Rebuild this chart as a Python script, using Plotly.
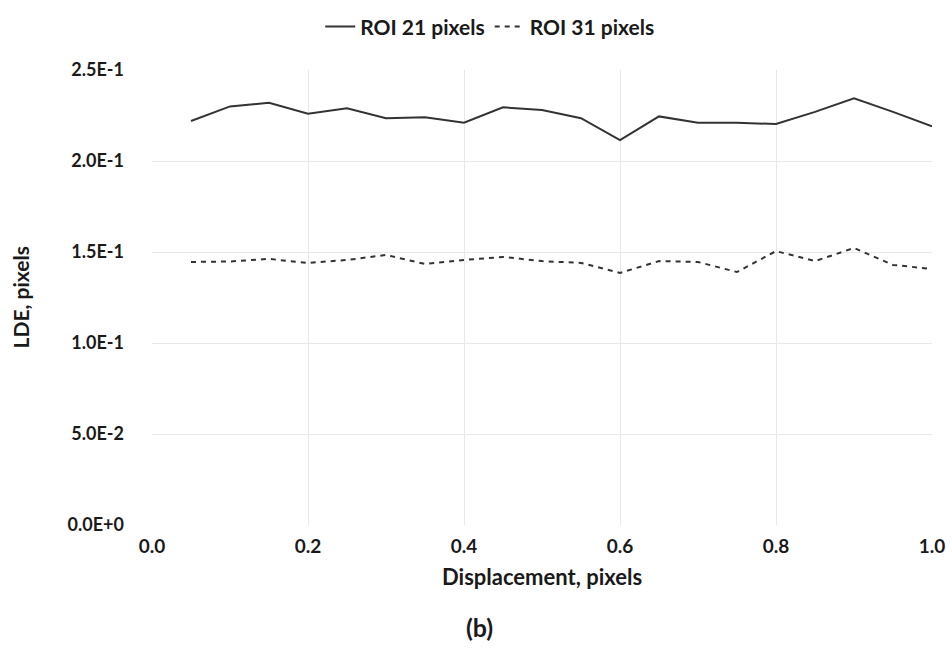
import plotly.graph_objects as go

displacement = [0.05, 0.10, 0.15, 0.20, 0.25, 0.30, 0.35, 0.40, 0.45, 0.50,
                0.55, 0.60, 0.65, 0.70, 0.75, 0.80, 0.85, 0.90, 0.95, 1.00]
roi21 = [0.222, 0.230, 0.232, 0.226, 0.229, 0.2235, 0.224, 0.221, 0.2295, 0.228,
         0.2235, 0.2115, 0.2245, 0.221, 0.221, 0.2203, 0.227, 0.2345, 0.227, 0.219]
roi31 = [0.1445, 0.1448, 0.1462, 0.144, 0.1456, 0.1484, 0.1434, 0.1456, 0.1473, 0.145,
         0.144, 0.1385, 0.145, 0.1445, 0.139, 0.1505, 0.145, 0.1522, 0.1429, 0.1407]
y_tickvals = [0.0, 0.05, 0.10, 0.15, 0.20, 0.25]
y_ticktext = ["0.0E+0", "5.0E-2", "1.0E-1", "1.5E-1", "2.0E-1", "2.5E-1"]
x_tickvals = [0.0, 0.2, 0.4, 0.6, 0.8, 1.0]

FONT = "Lato, 'Open Sans', 'Liberation Sans', sans-serif"
C = "#333333"

fig = go.Figure()
fig.add_trace(go.Scatter(x=displacement, y=roi21, mode="lines", name="ROI 21 pixels",
                         line=dict(color=C, width=2)))
fig.add_trace(go.Scatter(x=displacement, y=roi31, mode="lines", name="ROI 31 pixels",
                         line=dict(color=C, width=2, dash="5px,5px")))

fig.update_layout(
    width=952, height=657,
    margin=dict(l=152, r=20, t=70, b=132),
    paper_bgcolor="white", plot_bgcolor="white",
    font=dict(family=FONT, size=19, color="#1a1a1a"),
    showlegend=True,
    legend=dict(orientation="h", x=0.433, xanchor="center", y=0.959, yanchor="middle",
                yref="container", font=dict(size=21, family=FONT, weight="bold"),
                tracegroupgap=0),
    xaxis=dict(range=[0, 1.0], tickvals=x_tickvals, tickformat=".1f", automargin=False,
               showgrid=True, gridcolor="#e8e8e8", gridwidth=1, zeroline=False,
               showline=False, ticks="", ticklabelstandoff=8, ticklabeloverflow="allow",
               tickfont=dict(size=19, family=FONT, weight="bold")),
    yaxis=dict(range=[0, 0.25], tickvals=y_tickvals, ticktext=y_ticktext, automargin=False,
               showgrid=True, gridcolor="#e8e8e8", gridwidth=1, zeroline=False,
               showline=False, ticks="", ticklabelstandoff=27,
               tickfont=dict(size=18, family=FONT, weight="bold")),
)
fig.add_annotation(text="<b>LDE, pixels</b>", xref="paper", yref="paper", x=0, y=0.5,
                   xshift=-132, textangle=-90, showarrow=False,
                   font=dict(size=21, family=FONT), xanchor="center", yanchor="middle")
fig.add_annotation(text="<b>Displacement, pixels</b>", xref="paper", yref="paper", x=0.5, y=0,
                   yshift=-51, showarrow=False,
                   font=dict(size=22, family=FONT), xanchor="center", yanchor="middle")
fig.add_annotation(text="<b>(b)</b>", xref="paper", yref="paper", x=0.42, y=0,
                   yshift=-102, showarrow=False, font=dict(size=25, family=FONT),
                   xanchor="center", yanchor="middle")

fig.write_html("out.html", config={"displayModeBar": False},
               post_script="document.body.style.margin='0';")
